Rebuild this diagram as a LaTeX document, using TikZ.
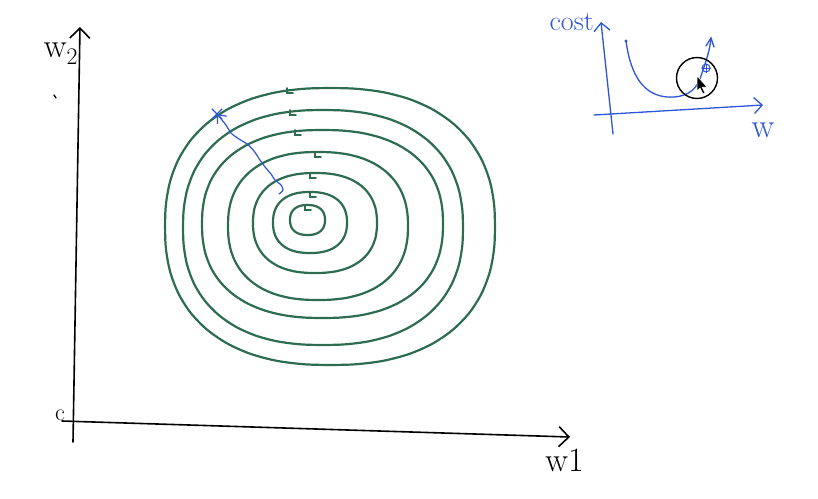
\documentclass[tikz,border=0pt]{standalone}
\usepackage{xcolor}
\usepackage{tikz}
\usetikzlibrary{arrows.meta, shapes.misc, positioning, calc}

\definecolor{pengreen}{RGB}{44,108,80}
\definecolor{penblue}{RGB}{45,85,215}

\begin{document}
\begin{tikzpicture}[
  x=1pt, y=-1pt,
  axis/.style={draw=black, line width=1.6pt, line cap=round, -{Straight Barb[length=10pt, width=20pt]}},
  contour/.style={draw=pengreen, line width=2.2pt, line cap=round},
  gdpath/.style={draw=penblue, line width=1.2pt, line cap=round, -{Straight Barb[length=7pt, width=12pt]}},
  inset/.style={draw=penblue, line width=1.3pt, line cap=round},
  insetaxis/.style={inset, -{Straight Barb[length=8pt, width=16pt]}},
  lbl/.style={font=\fontsize{34}{36}\selectfont, inner sep=0pt},
  bluelbl/.style={lbl, text=penblue}
]
  \useasboundingbox (0,0) rectangle (818,498);

  % main axes
  \coordinate (origin) at (74,421);
  \coordinate (ytop) at (80,27);
  \coordinate (xend) at (570,437);
  \draw[axis] (73,442) -- (ytop);
  \draw[axis] (62,421) -- (xend);
  \node[lbl] (w2) at (61,54) {w\textsubscript{2}};
  \node[lbl, below left=12pt and -14pt of xend] (w1) {w1};
  \node[lbl, font=\fontsize{24}{26}\selectfont] (c) at (60,415) {c};
  \draw[line width=1.3pt, line cap=round] (54,95) -- (56,98);

  % contour lines, inner to outer
  \foreach \cx/\cy/\rx/\ry/\nx in {307.5/220/17.5/15/305, 310/222.5/37/30.5/310,
      315/223/62/50/310, 318/226/90/74/315, 322.5/224/120.5/94/295,
      323/227.5/140/117.5/290, 330/226.5/165/138.5/287}{
    \draw[contour] plot[smooth cycle, domain=5:355, samples=36]
      ({\cx + \rx*sign(cos(\x))*pow(abs(cos(\x)),0.85)},
       {\cy + \ry*sign(sin(\x))*pow(abs(sin(\x)),0.85)});
    \draw[contour, line width=1.8pt] (\nx,\cy-\ry) -- ++(0,5) -- ++(6,0);
  }

  % gradient steps
  \node[cross out, draw=penblue, line width=1.2pt, minimum size=9pt, inner sep=0pt] (xmark) at (217,114) {};
  \coordinate (pstart) at (279,194);
  \draw[gdpath] plot[smooth] coordinates {(pstart) (283,190) (281,185) (275,180)
    (271,174) (265,167) (260,160) (254,151) (247,144) (239,139) (231,133)
    (226,125) (xmark.center)};

  % inset: cost against w
  \coordinate (io) at (609,112);
  \coordinate (itop) at (601,22);
  \coordinate (iend) at (763,105);
  \draw[insetaxis] (613,134) -- (itop);
  \draw[insetaxis] (594,115) -- (iend);
  \node[bluelbl, font=\fontsize{28}{30}\selectfont, anchor=east] (cost) at (594,22) {cost};
  \node[bluelbl, below=18pt of iend] (w) {w};
  \draw[inset] (626,41) .. controls (631,78) and (645,95) .. (667,97)
    .. controls (684,98) and (695,92) .. (700,79)
    .. controls (704,66) and (709,55) .. (711,39);
  \draw[inset] (706,46) -- (711,38) -- (714,47);
  \fill[penblue] (626,41) circle (1.6pt);
  \node[circle, draw=penblue, line width=1pt, minimum size=8pt, inner sep=0pt] (pt) at (706,68) {};
  \draw[penblue, line width=0.8pt] (pt.north) -- (pt.south) (pt.west) -- (pt.east);
  \node[circle, draw=black, line width=1.4pt, minimum size=41pt, inner sep=0pt] (lens) at (697,78) {};
  % pointer
  \filldraw[fill=black, draw=white, line width=0.5pt] (697,76) -- (697,91) -- (700,88)
    -- (703,94) -- (705,93) -- (702,87) -- (707,87) -- cycle;
\end{tikzpicture}
\end{document}
